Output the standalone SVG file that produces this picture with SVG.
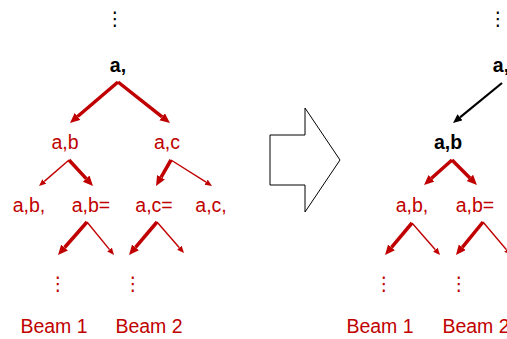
<svg xmlns="http://www.w3.org/2000/svg" width="507" height="339" viewBox="0 0 507 339">
<style>
.t{font-family:"Liberation Sans",Arial,sans-serif;font-size:19.5px;text-anchor:middle}
.r{fill:#C00000}
.k{fill:#000;font-weight:bold}
.dots{font-family:"DejaVu Sans",sans-serif;font-size:19px;text-anchor:middle}
.thick{stroke:#C00000;stroke-width:3.5;fill:none;marker-end:url(#hT)}
.thin{stroke:#C00000;stroke-width:1.4;fill:none;marker-end:url(#hN)}
.blk{stroke:#000;stroke-width:2.2;fill:none;marker-end:url(#hK)}
</style>
<defs>
<marker id="hT" markerUnits="userSpaceOnUse" markerWidth="10" markerHeight="10" refX="0" refY="4.5" orient="auto"><path d="M0,0 L10,4.5 L0,9 z" fill="#C00000"/></marker>
<marker id="hN" markerUnits="userSpaceOnUse" markerWidth="7" markerHeight="7" refX="0" refY="3" orient="auto"><path d="M0,0 L7,3 L0,6 z" fill="#C00000"/></marker>
<marker id="hK" markerUnits="userSpaceOnUse" markerWidth="9" markerHeight="9" refX="0" refY="4" orient="auto"><path d="M0,0 L9,4 L0,8 z" fill="#000"/></marker>
</defs>
<rect width="507" height="339" fill="#fff"/>
<g id="connectors">
<line class="thick" x1="118" y1="82" x2="77.6" y2="116.5"/>
<line class="thick" x1="118" y1="82" x2="162.1" y2="116.8"/>
<line class="thin" x1="69" y1="160" x2="44.3" y2="181.4"/>
<line class="thick" x1="69" y1="160" x2="86.2" y2="178.6"/>
<line class="thick" x1="171" y1="160" x2="161" y2="177.3"/>
<line class="thin" x1="171" y1="160" x2="206.1" y2="182.2"/>
<line class="thick" x1="87" y1="222" x2="64.6" y2="247.5"/>
<line class="thin" x1="87" y1="222" x2="109.6" y2="249.6"/>
<line class="thick" x1="157" y1="222" x2="135.5" y2="247.4"/>
<line class="thin" x1="157" y1="222" x2="179.4" y2="247.7"/>
<line class="blk" x1="502" y1="83" x2="460" y2="117.3"/>
<line class="thick" x1="452" y1="160" x2="431.5" y2="178.3"/>
<line class="thick" x1="452" y1="160" x2="469.9" y2="177.9"/>
<line class="thick" x1="412" y1="223" x2="391.5" y2="247.4"/>
<line class="thin" x1="412" y1="223" x2="435.4" y2="249.7"/>
<line class="thick" x1="483" y1="222" x2="462.3" y2="247.3"/>
<line class="thin" x1="483" y1="222" x2="506.5" y2="249.7"/>
</g>
<g id="transform-arrow"><polygon points="270,135 305,135 305,108 340,160 305,212 305,185 270,185" fill="#fff" stroke="#000" stroke-width="1"/></g>
<g id="left-top-dots"><text class="dots" x="115" y="25">⋮</text></g>
<g id="left-root"><text class="t k" x="118" y="72">a,</text></g>
<g id="left-ab"><text class="t r" x="65" y="149">a,b</text></g>
<g id="left-ac"><text class="t r" x="167" y="149">a,c</text></g>
<g id="left-abc"><text class="t r" x="29" y="212">a,b,</text></g>
<g id="left-abe"><text class="t r" x="91" y="212">a,b=</text></g>
<g id="left-ace"><text class="t r" x="154" y="212">a,c=</text></g>
<g id="left-acc"><text class="t r" x="211" y="212">a,c,</text></g>
<g id="left-dots1"><text class="dots r" x="58" y="290">⋮</text></g>
<g id="left-dots2"><text class="dots r" x="133" y="290">⋮</text></g>
<g id="left-beam1"><text class="t r" x="54" y="333">Beam 1</text></g>
<g id="left-beam2"><text class="t r" x="149" y="333">Beam 2</text></g>
<g id="right-top-dots"><text class="dots" x="498" y="25">⋮</text></g>
<g id="right-root"><text class="t k" x="501" y="72">a,</text></g>
<g id="right-ab"><text class="t k" x="448" y="149">a,b</text></g>
<g id="right-abc"><text class="t r" x="412" y="212">a,b,</text></g>
<g id="right-abe"><text class="t r" x="475" y="212">a,b=</text></g>
<g id="right-dots1"><text class="dots r" x="384" y="290">⋮</text></g>
<g id="right-dots2"><text class="dots r" x="459" y="290">⋮</text></g>
<g id="right-beam1"><text class="t r" x="380" y="333">Beam 1</text></g>
<g id="right-beam2"><text class="t r" x="476" y="333">Beam 2</text></g>
</svg>
